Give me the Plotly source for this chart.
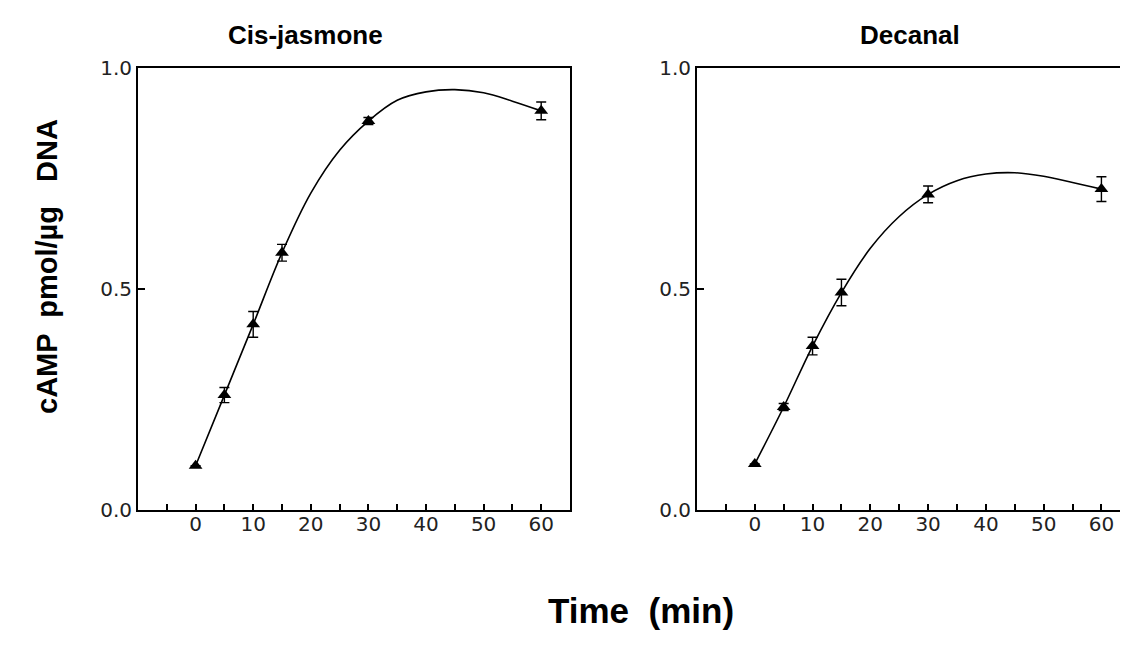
import plotly.graph_objects as go

# Measured points (time in min, cAMP pmol/ug DNA)
time_pts = [0, 5, 10, 15, 30, 60]
cis_vals = [0.10, 0.26, 0.42, 0.582, 0.88, 0.903]
cis_err = [0.0, 0.017, 0.029, 0.019, 0.008, 0.02]
dec_vals = [0.104, 0.233, 0.371, 0.492, 0.714, 0.726]
dec_err = [0.0, 0.008, 0.02, 0.03, 0.019, 0.028]

# Fitted curves
curve_t = [0, 5, 10, 15, 20, 25, 30, 35, 40, 45, 50, 55, 60]
cis_curve = [0.10, 0.26, 0.42, 0.582, 0.717, 0.814, 0.88, 0.927, 0.946, 0.951, 0.944, 0.925, 0.903]
dec_curve = [0.104, 0.233, 0.371, 0.492, 0.592, 0.664, 0.714, 0.745, 0.760, 0.763, 0.755, 0.741, 0.726]

titles = ["Cis-jasmone", "Decanal"]
x_tickvals = [-5, 0, 5, 10, 15, 20, 25, 30, 35, 40, 45, 50, 55, 60]
x_ticktext = ["", "0", "", "10", "", "20", "", "30", "", "40", "", "50", "", "60"]
y_tickvals = [0.0, 0.5, 1.0]
y_ticktext = ["0.0", "0.5", "1.0"]

# page has an 8px body margin: the figure is drawn at (8, 8)
OFF = 8
W, H = 1128 - OFF, 659 - OFF


def px(x):
    return (x - OFF) / W


def py(y):
    return (H - (y - OFF)) / H


fig = go.Figure()

panels = [
    (cis_vals, cis_err, cis_curve, "x", "y"),
    (dec_vals, dec_err, dec_curve, "x2", "y2"),
]
for vals, err, curve, xa, ya in panels:
    fig.add_trace(go.Scatter(x=curve_t, y=curve, mode="lines", xaxis=xa, yaxis=ya,
                             line=dict(color="black", width=1.6, shape="spline", smoothing=1.0),
                             showlegend=False, hoverinfo="skip"))
    fig.add_trace(go.Scatter(x=time_pts, y=vals, mode="markers", xaxis=xa, yaxis=ya,
                             marker=dict(symbol="triangle-up", size=12, color="black"),
                             error_y=dict(type="data", array=err, visible=True,
                                          color="black", thickness=1.4, width=5),
                             showlegend=False))

tick_font = dict(family="DejaVu Sans, Liberation Sans, sans-serif", size=20, color="#222")
common_x = dict(range=[-10, 65], tickmode="array", tickvals=x_tickvals, ticktext=x_ticktext,
                ticks="inside", ticklen=6, tickwidth=1.5, tickcolor="black",
                showline=True, linecolor="black", linewidth=1.8, showgrid=False,
                zeroline=False, tickfont=tick_font, automargin=False, ticklabelstandoff=-5)
common_y = dict(range=[0, 1], tickmode="array", tickvals=y_tickvals, ticktext=y_ticktext,
                ticks="inside", ticklen=7, tickwidth=1.5, tickcolor="black",
                showline=True, linecolor="black", linewidth=1.8, showgrid=False,
                zeroline=False, tickfont=tick_font, automargin=False)

ydom = [py(510), py(68)]
fig.update_layout(
    width=W, height=H, autosize=False,
    margin=dict(l=0, r=0, t=0, b=0, pad=0, autoexpand=False),
    paper_bgcolor="white", plot_bgcolor="white",
    xaxis=dict(common_x, domain=[px(138), px(570)], anchor="y", mirror=True),
    yaxis=dict(common_y, domain=ydom, anchor="x", mirror=True),
    xaxis2=dict(common_x, range=[-10, 64.6], domain=[px(697), 1.0], anchor="y2", mirror=True),
    yaxis2=dict(common_y, domain=ydom, anchor="x2", mirror=False),
)

title_font = dict(family="Liberation Sans, Arial, sans-serif", size=26, color="black")
ann = [
    dict(text="<b>" + titles[0] + "</b>", x=px(305), y=py(35), size=26),
    dict(text="<b>" + titles[1] + "</b>", x=px(910), y=py(35), size=26),
    dict(text="<b>Time  (min)</b>", x=px(641), y=py(610), size=35),
]
for a in ann:
    s = a.pop("size")
    fig.add_annotation(xref="paper", yref="paper", showarrow=False,
                       xanchor="center", yanchor="middle",
                       font=dict(title_font, size=s), **a)
fig.add_annotation(xref="paper", yref="paper", showarrow=False, textangle=-90,
                   x=px(47), y=py(267), xanchor="center", yanchor="middle",
                   text="<b>cAMP  pmol/µg   DNA</b>", font=dict(title_font, size=29))

fig.write_html("out.html")
